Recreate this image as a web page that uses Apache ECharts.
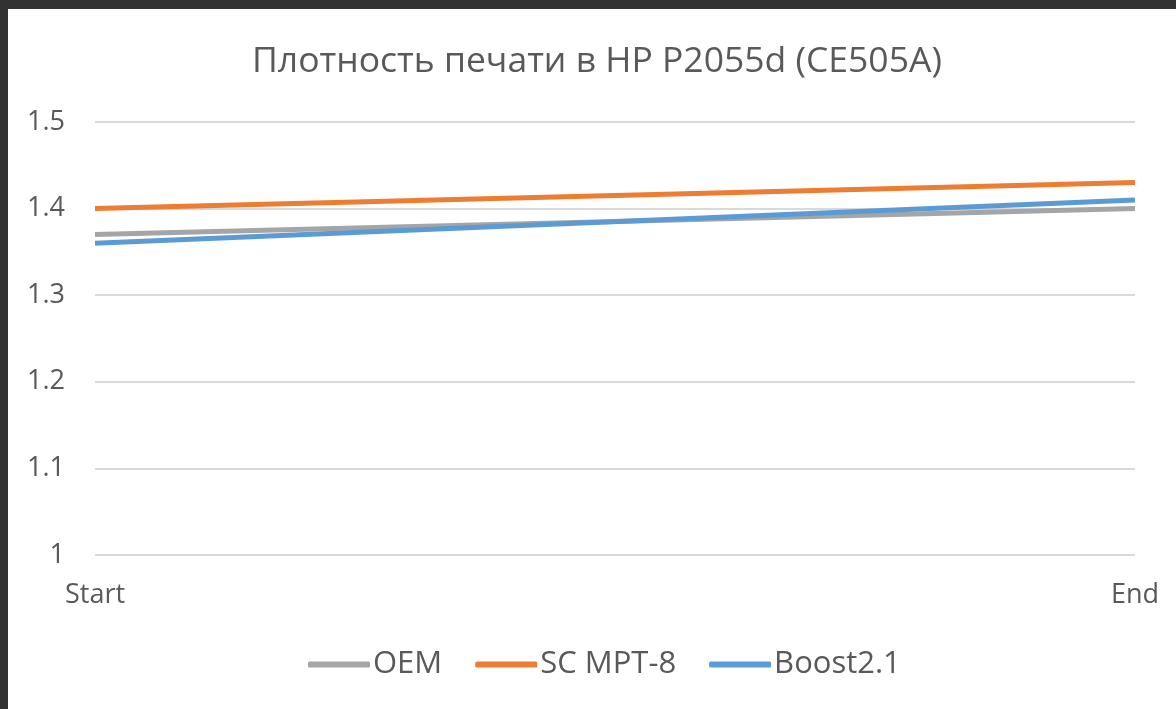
<!DOCTYPE html>
<html><head><meta charset="utf-8">
<script src="https://cdn.jsdelivr.net/npm/echarts@6/dist/echarts.min.js"></script>
<style>
html,body{margin:0;padding:0;background:#323232;width:1176px;height:709px;overflow:hidden;}
#c{position:absolute;left:8px;top:9px;width:1168px;height:700px;background:#fff;}
</style></head><body>
<div id="c"></div>
<script>
const categories = ['Start', 'End'];
const oem = [1.37, 1.40];
const scMpt8 = [1.40, 1.43];
const boost21 = [1.36, 1.41];
const yMin = 1, yMax = 1.5, yStep = 0.1;
const titleText = 'Плотность печати в HP P2055d (CE505A)';

const font = 'Open Sans';
const chart = echarts.init(document.getElementById('c'), null, {renderer: 'canvas'});
const mk = (name, data, color) => ({
  name, type: 'line', data, symbol: 'none', showSymbol: false,
  lineStyle: {color, width: 5, cap: 'butt'}, itemStyle: {color},
  emphasis: {disabled: true}, z: 3
});
chart.setOption({
  backgroundColor: '#ffffff',
  animation: false,
  title: {
    text: titleText, left: 239, top: 30,
    textStyle: {fontFamily: font, fontSize: 35.5, fontWeight: 'normal', color: '#595959'}
  },
  legend: {
    top: 635, left: 295, itemWidth: 62, itemHeight: 6, itemGap: 33,
    icon: 'roundRect',
    textStyle: {fontFamily: font, fontSize: 31, color: '#595959', padding: [0, 0, 0, -2]},
    data: ['OEM', 'SC MPT-8', 'Boost2.1']
  },
  grid: {left: 87, right: 41, top: 113, bottom: 154, containLabel: false},
  xAxis: {
    type: 'category', data: categories, boundaryGap: false,
    axisLine: {show: false}, axisTick: {show: false},
    axisLabel: {fontFamily: font, fontSize: 27, color: '#595959', margin: 27}
  },
  yAxis: {
    type: 'value', min: yMin, max: yMax, interval: yStep,
    axisLine: {show: false}, axisTick: {show: false},
    axisLabel: {fontFamily: font, fontSize: 27, color: '#595959', margin: 30},
    splitLine: {lineStyle: {color: '#d9d9d9', width: 2}}
  },
  series: [
    mk('OEM', oem, '#A5A5A5'),
    mk('SC MPT-8', scMpt8, '#ED7D31'),
    mk('Boost2.1', boost21, '#5B9BD5')
  ]
});
</script>
</body></html>
